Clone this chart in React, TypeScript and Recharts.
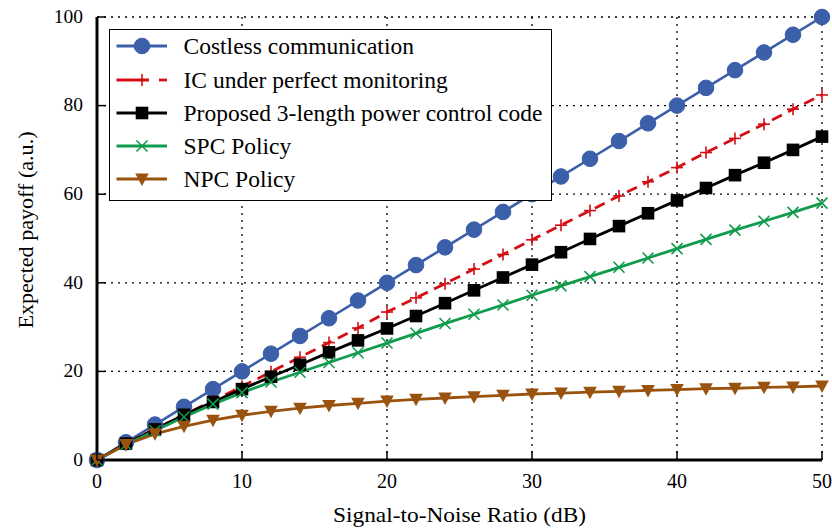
import React from 'react';
import { LineChart, Line, XAxis, YAxis, CartesianGrid } from 'recharts';

const snr = [0, 2, 4, 6, 8, 10, 12, 14, 16, 18, 20, 22, 24, 26, 28, 30, 32, 34, 36, 38, 40, 42, 44, 46, 48, 50];
const costless = [0, 4, 8, 12, 16, 20, 24, 28, 32, 36, 40, 44, 48, 52, 56, 60, 64, 68, 72, 76, 80, 84, 88, 92, 96, 100];
const icPerfect = [0, 3.8, 7.0, 10.2, 13.4, 16.6, 19.9, 23.2, 26.5, 29.8, 33.4, 36.6, 39.8, 43.1, 46.4, 49.7, 53.0, 56.3, 59.6, 62.8, 66.0, 69.4, 72.6, 75.8, 79.2, 82.4];
const proposed = [0, 3.7, 6.9, 10.2, 13.1, 16.0, 18.8, 21.5, 24.3, 27.0, 29.7, 32.5, 35.4, 38.3, 41.2, 44.1, 46.9, 49.9, 52.8, 55.7, 58.6, 61.4, 64.3, 67.1, 70.0, 73.0];
const spc = [0, 3.5, 6.6, 9.7, 12.6, 15.2, 17.6, 19.8, 22.0, 24.2, 26.4, 28.6, 30.8, 32.9, 35.0, 37.2, 39.3, 41.4, 43.5, 45.6, 47.7, 49.8, 51.9, 53.9, 55.9, 58.0];
const npc = [0, 3.5, 5.9, 7.6, 9.0, 10.1, 11.0, 11.7, 12.3, 12.8, 13.3, 13.7, 14.0, 14.3, 14.6, 14.9, 15.1, 15.3, 15.5, 15.7, 15.9, 16.1, 16.2, 16.4, 16.5, 16.7];

const xTicks = [0, 10, 20, 30, 40, 50];
const yTicks = [0, 20, 40, 60, 80, 100];

const seriesNames = [
  'Costless communication',
  'IC under perfect monitoring',
  'Proposed 3-length power control code',
  'SPC Policy',
  'NPC Policy',
];

const data = snr.map((x, i) => ({
  x,
  costless: costless[i],
  ic: icPerfect[i],
  proposed: proposed[i],
  spc: spc[i],
  npc: npc[i],
}));

const FONT = '"Liberation Serif", "Times New Roman", serif';
const BLUE = '#3c5fa9';
const RED = '#d40f14';
const BLACK = '#000000';
const GREEN = '#119b4c';
const BROWN = '#9a530e';

type MK = 'circle' | 'plus' | 'square' | 'cross' | 'tri';

function Marker({ kind, cx, cy, color }: { kind: MK; cx: number; cy: number; color: string }) {
  if (cx == null || cy == null || isNaN(cx) || isNaN(cy)) return null;
  switch (kind) {
    case 'circle':
      return <circle cx={cx} cy={cy} r={7.8} fill={color} stroke={color} strokeWidth={1} />;
    case 'plus':
      return (
        <g stroke={color} strokeWidth={1.6}>
          <line x1={cx - 6} y1={cy} x2={cx + 6} y2={cy} />
          <line x1={cx} y1={cy - 6} x2={cx} y2={cy + 6} />
        </g>
      );
    case 'square':
      return <rect x={cx - 6.3} y={cy - 6.3} width={12.6} height={12.6} fill={color} />;
    case 'cross':
      return (
        <g stroke={color} strokeWidth={1.6}>
          <line x1={cx - 5.5} y1={cy - 5.5} x2={cx + 5.5} y2={cy + 5.5} />
          <line x1={cx - 5.5} y1={cy + 5.5} x2={cx + 5.5} y2={cy - 5.5} />
        </g>
      );
    case 'tri':
      return <polygon points={`${cx - 6.8},${cy - 5.5} ${cx + 6.8},${cy - 5.5} ${cx},${cy + 7}`} fill={color} />;
  }
  return null;
}

const makeDot = (kind: MK, color: string) => (props: any) => {
  const { cx, cy, index } = props;
  return <Marker key={`m-${kind}-${index}`} kind={kind} cx={cx} cy={cy} color={color} />;
};

const TICK_LEN = 9;

const BottomTick = (props: any) => {
  const { x, y, payload } = props;
  return (
    <g>
      <line x1={x} y1={y} x2={x} y2={y - TICK_LEN} stroke="#000" strokeWidth={1.5} />
      <text x={x} y={y + 27.5} textAnchor="middle" fontFamily={FONT} fontSize={20} fill="#000">
        {payload.value}
      </text>
    </g>
  );
};

const TopTick = (props: any) => {
  const { x, y } = props;
  return <line x1={x} y1={y} x2={x} y2={y + TICK_LEN} stroke="#000" strokeWidth={1.5} />;
};

const LeftTick = (props: any) => {
  const { x, y, payload } = props;
  return (
    <g>
      <line x1={x} y1={y} x2={x + TICK_LEN} y2={y} stroke="#000" strokeWidth={1.5} />
      <text x={x - 14} y={y} dy="0.3em" textAnchor="end" fontFamily={FONT} fontSize={19.5} fill="#000">
        {payload.value}
      </text>
    </g>
  );
};

const RightTick = (props: any) => {
  const { x, y } = props;
  return <line x1={x} y1={y} x2={x - TICK_LEN} y2={y} stroke="#000" strokeWidth={1.5} />;
};

const legendItems: { name: string; color: string; kind: MK; dashed?: boolean }[] = [
  { name: seriesNames[0], color: BLUE, kind: 'circle' },
  { name: seriesNames[1], color: RED, kind: 'plus', dashed: true },
  { name: seriesNames[2], color: BLACK, kind: 'square' },
  { name: seriesNames[3], color: GREEN, kind: 'cross' },
  { name: seriesNames[4], color: BROWN, kind: 'tri' },
];

function LegendBox() {
  return (
    <div
      style={{
        position: 'absolute',
        left: 109,
        top: 29,
        width: 443,
        height: 172,
        boxSizing: 'border-box',
        border: '1.5px solid #000',
        background: '#fff',
      }}
    >
      {legendItems.map((it, i) => {
        const cy = 17.7 + i * 33.3 - 1.5;
        return (
          <div key={it.name} style={{ position: 'absolute', left: 0, top: cy - 16, height: 32, width: 440 }}>
            <svg width={70} height={32} style={{ position: 'absolute', left: 0, top: 0 }}>
              {it.dashed ? (
                <g stroke={it.color} strokeWidth={2.8}>
                  <line x1={6.5} y1={16} x2={39} y2={16} />
                  <line x1={49} y1={16} x2={57} y2={16} />
                </g>
              ) : (
                <line x1={6.5} y1={16} x2={57} y2={16} stroke={it.color} strokeWidth={2.8} />
              )}
              <Marker kind={it.kind} cx={32} cy={16} color={it.color} />
            </svg>
            <span
              style={{
                position: 'absolute',
                left: 73.5,
                top: 0,
                lineHeight: '32px',
                fontFamily: FONT,
                fontSize: 23.5,
                color: '#000',
                whiteSpace: 'nowrap',
              }}
            >
              {it.name}
            </span>
          </div>
        );
      })}
    </div>
  );
}

const YLabel = (props: any) => {
  const cx = 33;
  const cy = 230;
  return (
    <text
      x={cx}
      y={cy}
      transform={`rotate(-90, ${cx}, ${cy})`}
      textAnchor="middle"
      fontFamily={FONT}
      fontSize={21}
      textLength={197}
      lengthAdjust="spacingAndGlyphs"
      fill="#000"
    >
      Expected payoff (a.u.)
    </text>
  );
};

const XLabel = (props: any) => {
  const vb = props.viewBox || { x: 97, y: 460, width: 725, height: 71 };
  return (
    <text
      x={vb.x + vb.width / 2}
      y={522}
      textAnchor="middle"
      fontFamily={FONT}
      fontSize={21}
      textLength={253}
      lengthAdjust="spacingAndGlyphs"
      fill="#000"
    >
      Signal-to-Noise Ratio (dB)
    </text>
  );
};

export default function App() {
  return (
    <div style={{ position: 'absolute', left: 0, top: 0, width: 832, height: 531, background: '#fff' }}>
      <LineChart width={832} height={531} data={data} margin={{ top: 17, right: 10, left: 0, bottom: 0 }}>
        <CartesianGrid stroke="#000" strokeWidth={1.3} strokeDasharray="2 5" />
        <XAxis
          dataKey="x"
          type="number"
          domain={[0, 50]}
          ticks={xTicks}
          height={71}
          tickSize={0}
          tickMargin={0}
          tickLine={false}
          axisLine={{ stroke: '#000', strokeWidth: 3 }}
          tick={<BottomTick />}
          interval={0}
          label={<XLabel />}
        />
        <XAxis
          xAxisId="top"
          orientation="top"
          dataKey="x"
          type="number"
          domain={[0, 50]}
          ticks={xTicks}
          height={0}
          tickSize={0}
          tickMargin={0}
          tickLine={false}
          axisLine={{ stroke: '#000', strokeWidth: 3 }}
          tick={<TopTick />}
          interval={0}
        />
        <YAxis
          type="number"
          domain={[0, 100]}
          ticks={yTicks}
          width={97}
          tickSize={0}
          tickMargin={0}
          tickLine={false}
          axisLine={{ stroke: '#000', strokeWidth: 3 }}
          tick={<LeftTick />}
          interval={0}
          label={<YLabel />}
        />
        <YAxis
          yAxisId="right"
          orientation="right"
          type="number"
          domain={[0, 100]}
          ticks={yTicks}
          width={0}
          tickSize={0}
          tickMargin={0}
          tickLine={false}
          axisLine={{ stroke: '#000', strokeWidth: 3 }}
          tick={<RightTick />}
          interval={0}
        />
        <Line dataKey="costless" stroke={BLUE} strokeWidth={2.6} dot={makeDot('circle', BLUE)} isAnimationActive={false} />
        <Line dataKey="ic" stroke={RED} strokeWidth={2.8} strokeDasharray="11 7" dot={makeDot('plus', RED)} isAnimationActive={false} />
        <Line dataKey="proposed" stroke={BLACK} strokeWidth={2.8} dot={makeDot('square', BLACK)} isAnimationActive={false} />
        <Line dataKey="spc" stroke={GREEN} strokeWidth={2.8} dot={makeDot('cross', GREEN)} isAnimationActive={false} />
        <Line dataKey="npc" stroke={BROWN} strokeWidth={2.8} dot={makeDot('tri', BROWN)} isAnimationActive={false} />
      </LineChart>
      <LegendBox />
    </div>
  );
}
